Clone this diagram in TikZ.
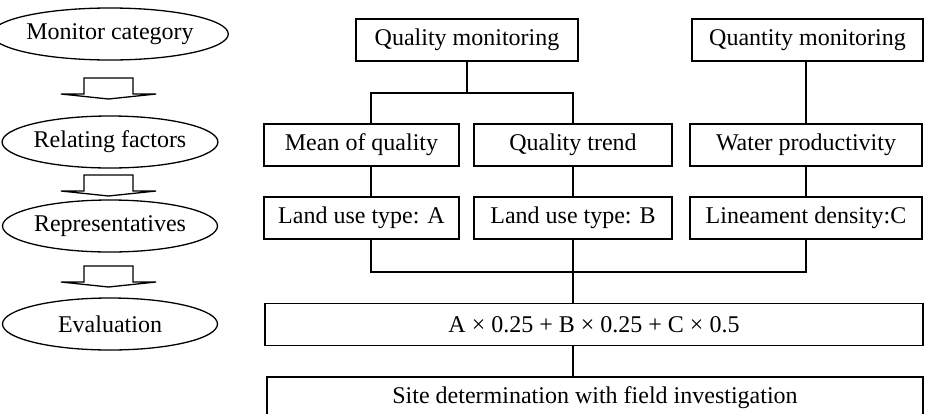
\documentclass[tikz,border=0pt]{standalone}
\usepackage{fontspec}
\setmainfont{Liberation Serif}
\usetikzlibrary{shapes.geometric,positioning}

\begin{document}
\begin{tikzpicture}[%
    x=1pt, y=-1pt,
    font=\fontsize{24}{28}\selectfont,
    line width=1.3pt,
    stepname/.style={
        draw,
        ellipse,
        inner sep=0pt,
        minimum width=215pt,
        minimum height=52pt
        },
    item/.style={
        draw,
        inner sep=0pt,
        minimum height=42pt
        },
    hollowarrow/.style={draw, fill=white, line join=miter}
]
\useasboundingbox (0,0) rectangle (925,413);

% steps on the left
\node[stepname] (category) at (110,34) {Monitor category};
\node[stepname] (factors) at (110,142) {Relating factors};
\node[stepname] (repr) at (110,226) {Representatives};
\node[stepname] (eval) at (110,324) {Evaluation};

\foreach \y in {78,175,266}
    \draw[hollowarrow] (84,\y) -- (133,\y) -- (133,\y+16) -- (156,\y+16)
        -- (108.5,\y+21) -- (61,\y+16) -- (84,\y+16) -- cycle;

% monitoring tree
\node[item, minimum width=222pt] (quality) at (467,40) {Quality monitoring};
\node[item, minimum width=231pt] (quantity) at (807.5,40) {Quantity monitoring};

\node[item, minimum width=195pt] (mean) at (361.5,145) {Mean of quality};
\node[item, minimum width=198pt] (trend) at (573,145) {Quality trend};
\node[item, minimum width=232pt] (water) at (806,145) {Water productivity};

\node[item, minimum width=195pt] (landA) at (361.5,218) {Land use type: A};
\node[item, minimum width=198pt] (landB) at (573,218) {Land use type: B};
\node[item, minimum width=232pt] (lineament) at (806,218) {Lineament density:C};

\node[item, minimum width=658pt] (formula) at (594,324.5) {A × 0.25 + B × 0.25 + C × 0.5};
\node[item, minimum width=656pt] (site) at (595,398) {Site determination with field investigation};

\coordinate (qsplit) at (467,93);
\coordinate (meanin) at (371,145);
\coordinate (meanout) at (371,218);
\coordinate (join) at (573,272);

\draw (quality) -- (qsplit);
\draw (meanin |- mean.north) |- (qsplit) -| (trend.north);
\draw (quantity.south -| water) -- (water);
\draw (meanin |- mean.south) -- (meanout |- landA.north);
\draw (trend) -- (landB);
\draw (water) -- (lineament);
\draw (meanout |- landA.south) |- (join) -| (lineament.south);
\draw (landB.south) -- (join) -- (formula.north -| join);
\draw (formula.south -| join) -- (site.north -| join);

\end{tikzpicture}
\end{document}
